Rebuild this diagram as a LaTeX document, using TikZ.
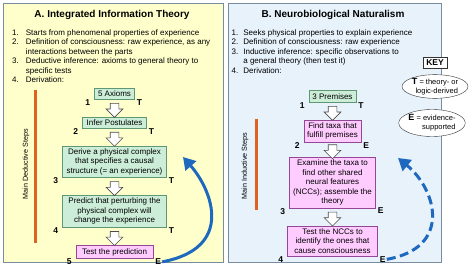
\documentclass[tikz,border=0pt]{standalone}
\usepackage{fontspec}
\setmainfont{Liberation Sans}
\usetikzlibrary{positioning,shapes.arrows,shapes.geometric,arrows.meta,calc}

\definecolor{panelyel}{RGB}{255,255,204}
\definecolor{panelblu}{RGB}{231,242,251}
\definecolor{panelrim}{RGB}{120,140,162}
\definecolor{thrygreen}{RGB}{204,238,216}
\definecolor{thryrim}{RGB}{95,150,115}
\definecolor{evidpink}{RGB}{255,204,255}
\definecolor{evidrim}{RGB}{150,70,150}
\definecolor{barorange}{RGB}{222,98,32}
\definecolor{arcblue}{RGB}{30,105,190}

\tikzset{
  panel/.style={draw=panelrim, line width=0.8pt},
  paneltitle/.style={font=\fontsize{10}{12}\selectfont\bfseries, inner sep=0pt},
  listtxt/.style={font=\fontsize{8}{9.5}\selectfont, inner sep=0pt, anchor=north west},
  thrybox/.style={draw=thryrim, fill=thrygreen, align=center, inner xsep=3pt, inner ysep=2.5pt, font=\fontsize{8}{9.5}\selectfont},
  evidbox/.style={thrybox, draw=evidrim, fill=evidpink},
  stepnum/.style={font=\fontsize{8.5}{10}\selectfont\bfseries, inner sep=1pt},
  downarrow/.style={single arrow, shape border rotate=270, draw=black!70, fill=white, line width=0.6pt, inner sep=4pt, minimum height=14pt, minimum width=16pt, single arrow head extend=4pt},
  stepline/.style={barorange, line width=3pt},
  sidelbl/.style={rotate=90, font=\fontsize{7.2}{9}\selectfont},
  backarc/.style={arcblue, line width=3pt, -{Triangle[length=12pt,width=14pt]}},
  keybox/.style={draw=black!80, fill=white, font=\fontsize{8.5}{10}\selectfont\bfseries, minimum width=24pt, minimum height=11pt, inner sep=1pt},
  keyell/.style={ellipse, draw=black!80, fill=white, align=right, inner sep=0pt, font=\fontsize{7.5}{9}\selectfont}
}

\begin{document}
\begin{tikzpicture}[x=1pt, y=-1pt]
\useasboundingbox (0,0) rectangle (474,267);

\draw[panel, fill=panelyel] (3,3) rectangle (223,262);
\draw[panel, fill=panelblu] (228,3) rectangle (441,262);

\node[paneltitle] (atitle) at (112,15) {A. Integrated Information Theory};
\node[paneltitle] (btitle) at (333,15) {B. Neurobiological Naturalism};

\node[listtxt] (alist) at (12,28.3) {\begin{tabular}{@{}r@{\hspace{7pt}}l@{}}
1. & Starts from phenomenal properties of experience\\
2. & Definition of consciousness: raw experience, as any\\
   & interactions between the parts\\
3. & Deductive inference: axioms to general theory to\\
   & specific tests\\
4. & Derivation:
\end{tabular}};
\node[listtxt] (blist) at (231.5,28.3) {\begin{tabular}{@{}r@{\hspace{5pt}}l@{}}
1. & Seeks physical properties to explain experience\\
2. & Definition of consciousness: raw experience\\
3. & Inductive inference: specific observations to\\
   & a general theory (then test it)\\
4. & Derivation:
\end{tabular}};

\draw[stepline] (35,90) -- (35,243);
\node[sidelbl] (dedlbl) at (26,164) {Main Deductive Steps};
\draw[stepline] (256,119) -- (256,210);
\node[sidelbl] (indlbl) at (245,166) {Main Inductive Steps};

\node[thrybox, minimum width=40pt, minimum height=11pt] (a1) at (114.5,93.5) {5 Axioms};
\node[thrybox, minimum width=64pt, minimum height=11pt, below=18pt of a1] (a2) {Infer Postulates};
\node[thrybox, minimum width=104pt, below=17pt of a2] (a3) {Derive a physical complex\\that specifies a causal\\structure (= an experience)};
\node[thrybox, minimum width=104pt, below=18pt of a3] (a4) {Predict that perturbing the\\physical complex will\\change the experience};
\node[evidbox, minimum width=77pt, minimum height=13pt, below=18pt of a4] (a5) {Test the prediction};

\node[thrybox, minimum width=47pt, minimum height=12pt] (b1) at (332.5,96.5) {3 Premises};
\node[evidbox, minimum width=57pt, below=17pt of b1] (b2) {Find taxa that\\fulfill premises};
\node[evidbox, minimum width=86pt, below=15pt of b2] (b3) {Examine the taxa to\\find other shared\\neural features\\(NCCs); assemble the\\theory};
\node[evidbox, minimum width=90pt, below=18pt of b3] (b4) {Test the NCCs to\\identify the ones that\\cause consciousness};

\foreach \u/\v in {a1/a2, a2/a3, a3/a4, a4/a5, b1/b2, b2/b3, b3/b4}
  \node[downarrow] at ($(\u.south)!0.5!(\v.north)$) {};

\foreach \b/\n/\l in {a1/1/T, a2/2/T, a3/3/T, a4/4/T, a5/5/E, b1/1/T, b2/2/E, b3/3/E, b4/4/E} {
  \node[stepnum, anchor=north east, xshift=-3pt, yshift=1pt] (\b n) at (\b.south west) {\n};
  \node[stepnum, anchor=north west, xshift=1pt, yshift=1pt] (\b l) at (\b.south east) {\l};
}

\coordinate (a3back) at (183,157);
\draw[backarc] (a5l.east) .. controls (235,248) and (212,190) .. (a3back);
\coordinate (b3back) at (398,158);
\draw[backarc, dash pattern=on 9pt off 4.5pt] (b4l.east) .. controls (452,248) and (437,190) .. (b3back);

\node[keybox] (key) at (435,62.5) {KEY};
\node[keyell, minimum width=66pt, minimum height=23pt] (keyt) at (435,86.5) {{\fontsize{9}{9}\selectfont\bfseries T} = theory- or\\logic-derived};
\node[keyell, minimum width=65pt, minimum height=27pt] (keye) at (432,123) {{\fontsize{9}{9}\selectfont\bfseries E} = evidence-\\supported};
\end{tikzpicture}
\end{document}
